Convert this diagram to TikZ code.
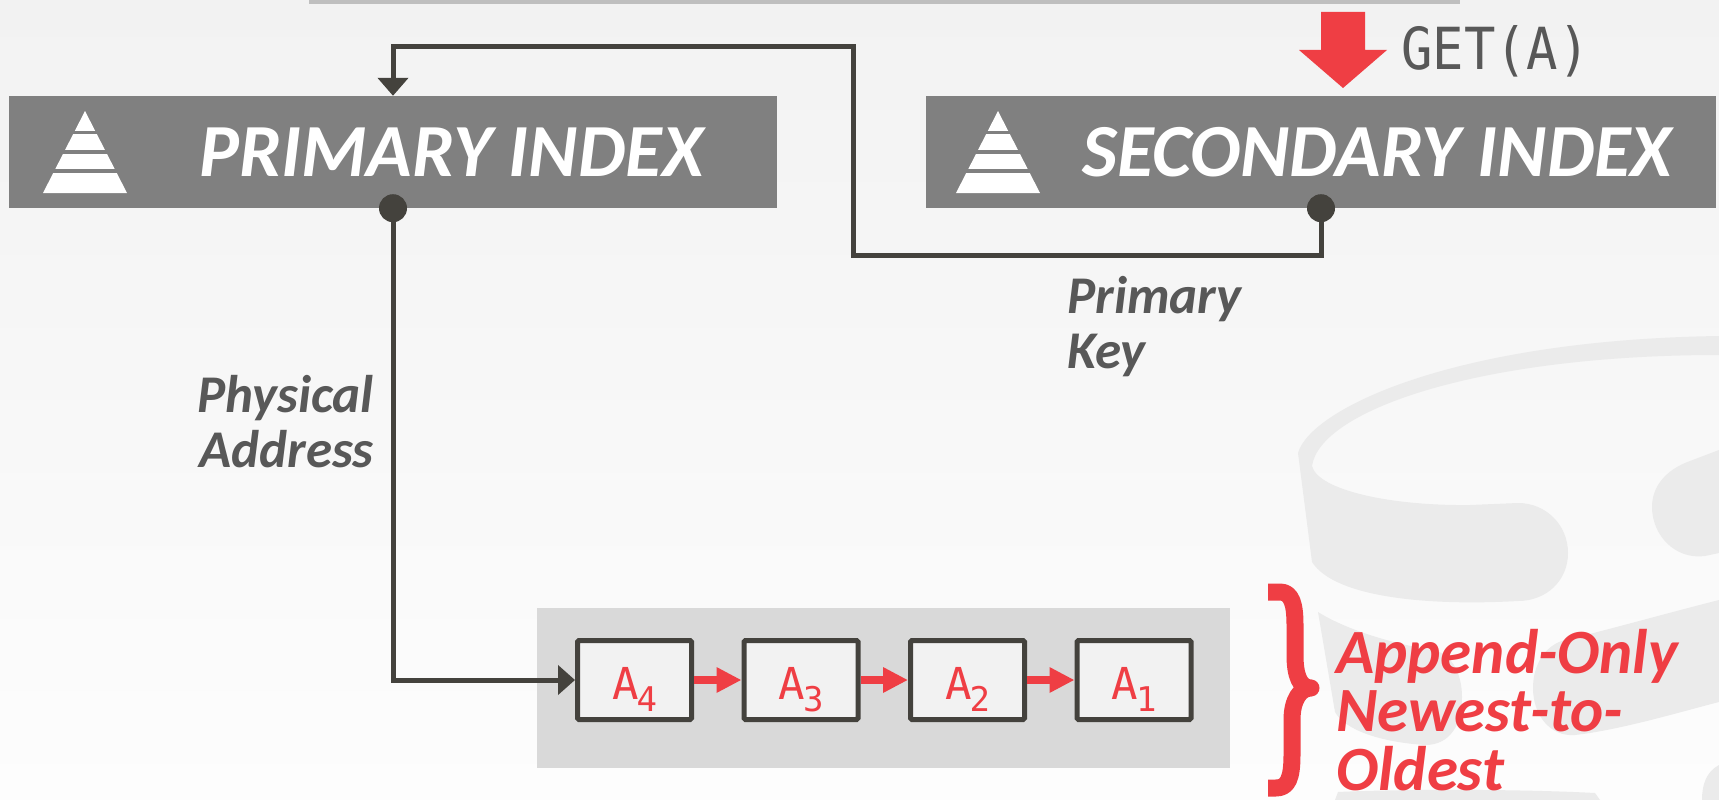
\documentclass[tikz,border=0pt]{standalone}
\usepackage{fontspec}
\setmainfont{Carlito}
\newfontfamily\getfont[FakeStretch=0.9]{DejaVu Sans Mono}
\newfontfamily\verfont{DejaVu Sans Mono}
\usetikzlibrary{arrows.meta}

\definecolor{bgtop}{HTML}{F2F2F2}
\definecolor{bgbot}{HTML}{FDFDFD}
\definecolor{wmgray}{HTML}{EBEBEB}
\definecolor{topbar}{HTML}{BFBFBF}
\definecolor{idxgray}{HTML}{808080}
\definecolor{ink}{HTML}{44423D}
\definecolor{vred}{HTML}{EF3E44}
\definecolor{labgray}{HTML}{585858}
\definecolor{logpanel}{HTML}{D9D9D9}
\definecolor{boxfill}{HTML}{F2F2F2}

% stepped-pyramid index icon: apex x, apex y
\newcommand\idxicon[2]{%
  \fill[white] (#1,#2) -- (#1+42,#2+82) -- (#1-42,#2+82) -- cycle;
  \fill[idxgray] (#1-50,#2+20) rectangle (#1+50,#2+23);
  \fill[idxgray] (#1-50,#2+39) rectangle (#1+50,#2+43);
  \fill[idxgray] (#1-50,#2+58) rectangle (#1+50,#2+62);
}
% version label A with subscript
\newcommand\verlbl[1]{%
  \textcolor{vred}{\verfont\fontsize{44pt}{44pt}\selectfont A\kern-2pt\raisebox{-12pt}{\fontsize{34pt}{34pt}\selectfont #1}}}

\begin{document}
\begin{tikzpicture}[x=1pt,y=-1pt,
  idxbox/.style={fill=idxgray, minimum height=112pt, inner sep=0pt},
  idxtitle/.style={anchor=base west, inner sep=0pt, text=white,
    font=\bfseries\itshape\fontsize{75pt}{80pt}\selectfont},
  conn/.style={draw=ink, line width=5pt},
  junction/.style={circle, fill=ink, minimum size=28pt, inner sep=0pt},
  verbox/.style={draw=ink, line width=5pt, fill=boxfill, minimum width=114pt,
    minimum height=79pt, inner sep=0pt, rounded corners=1.5pt,
    text height=44pt, text depth=6pt},
  lbl/.style={inner sep=0pt, text=labgray,
    font=\bfseries\itshape\fontsize{53pt}{54.5pt}\selectfont},
  chain/.style={draw=vred, line width=8pt, -{Triangle[length=25pt,width=24pt]}},
]
\useasboundingbox (0,0) rectangle (1719,800);

% background
\shade[top color=bgtop, bottom color=bgbot] (0,0) rectangle (1719,800);

% faint database watermark
\begin{scope}[wmgray]
\fill (1298,453) .. controls (1310,410) and (1450,340) .. (1719,336)
  -- (1719,355) .. controls (1480,355) and (1320,410) .. (1312,466)
  .. controls (1318,490) and (1390,506) .. (1470,505) -- (1518,503)
  .. controls (1546,503) and (1568,525) .. (1568,553)
  .. controls (1568,581) and (1546,601) .. (1518,601)
  .. controls (1430,606) and (1335,598) .. (1312,562) -- cycle;
\fill (1719,450) -- (1690,461) .. controls (1665,470) and (1652,487) .. (1652,507)
  .. controls (1652,535) and (1675,560) .. (1705,556) -- (1719,553) -- cycle;
\fill (1318,612) .. controls (1350,632) and (1400,645) .. (1432,650)
  .. controls (1450,652) and (1462,672) .. (1462,697)
  .. controls (1462,725) and (1450,745) .. (1425,745)
  .. controls (1380,742) and (1345,730) .. (1335,712) -- cycle;
\fill (1719,600) .. controls (1660,615) and (1600,632) .. (1565,640)
  .. controls (1545,645) and (1533,665) .. (1533,688)
  .. controls (1533,715) and (1550,737) .. (1575,735)
  .. controls (1620,730) and (1680,712) .. (1719,702) -- cycle;
\fill (1719,765) .. controls (1706,772) and (1702,785) .. (1702,800) -- (1719,800) -- cycle;
\fill (1335,800) -- (1338,792) .. controls (1400,789) and (1520,789) .. (1595,793)
  -- (1600,800) -- cycle;
\end{scope}

% title rule at the top edge
\fill[topbar] (309,0) rectangle (1460,4);

% index boxes
\node[idxbox, minimum width=768pt] (pri) at (393,152) {};
\node[idxbox, minimum width=790pt] (sec) at (1321,152) {};
\idxicon{85}{111}
\idxicon{998}{111}
\node[idxtitle] (pritxt) at (199,176) {PRIMARY INDEX};
\node[idxtitle] (sectxt) at (1082,176) {SECONDARY INDEX};

% GET(A) request
\fill[vred] (1321,12) -- (1365,12) -- (1365,50) -- (1387,50) -- (1343,88)
  -- (1299,50) -- (1321,50) -- cycle;
\node[anchor=base west, inner sep=0pt, text=labgray,
  font=\getfont\fontsize{58pt}{60pt}\selectfont] (get) at (1401,70) {GET(A)};

% version chain
\fill[logpanel] (537,608) rectangle (1230,768);
\node[verbox] (a4) at (634.5,680) {\verlbl{4}};
\node[verbox] (a3) at (801,680) {\verlbl{3}};
\node[verbox] (a2) at (967.5,680) {\verlbl{2}};
\node[verbox] (a1) at (1134,680) {\verlbl{1}};
\draw[chain] (a4.east) -- (a3.west);
\draw[chain] (a3.east) -- (a2.west);
\draw[chain] (a2.east) -- (a1.west);

% junctions and lookups
\node[junction] (sdot) at (sec.south) {};
\node[junction] (pdot) at (pri.south) {};
\coordinate (k1) at (853,255);
\coordinate (k2) at (853,47);
\draw[conn, -{Triangle[length=18pt,width=30pt]}]
  (sdot.center) |- (k1) -- (k2) -| (pri.north);
\draw[conn, -{Triangle[length=17pt,width=29pt]}]
  (pdot.center) |- (a4.west);

% labels (anchored on the baseline of the last line)
\node[lbl, align=right, anchor=base east] (phys) at (374,467) {Physical\\Address};
\node[lbl, align=left, anchor=base west] (pkey) at (1067,368) {Primary\\Key};

% brace and note
\draw[vred, line width=17pt, line join=round]
  (1268,592) -- (1280,592) .. controls (1292,592) and (1295,605) .. (1295,625)
  -- (1295,655) .. controls (1295,676) and (1300,688) .. (1311,688)
  .. controls (1300,688) and (1292,700) .. (1292,720)
  -- (1292,755) .. controls (1292,778) and (1288,788) .. (1276,788) -- (1268,788);
\node[inner sep=0pt, align=left, anchor=base west, text=vred,
  font=\bfseries\itshape\fontsize{63pt}{58.5pt}\selectfont] (note) at (1336,790)
  {Append-Only\\Newest-to-\\Oldest};
\end{tikzpicture}
\end{document}
